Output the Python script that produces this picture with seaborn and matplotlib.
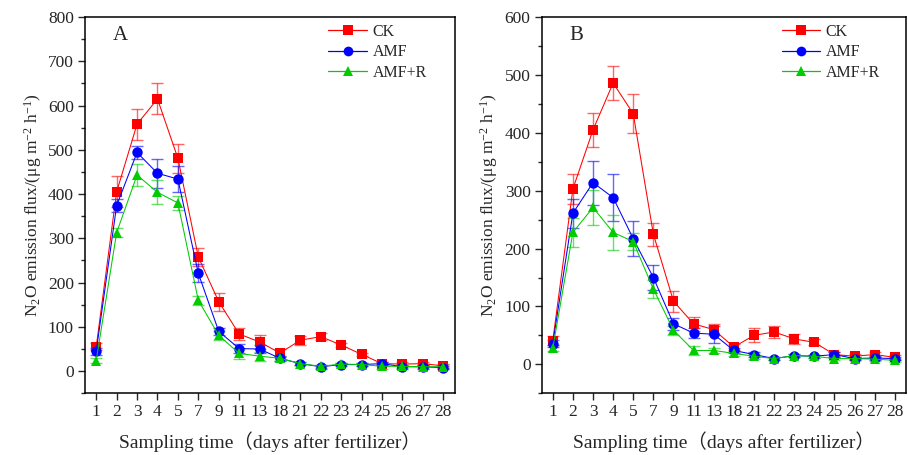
import numpy as np
import pandas as pd
import seaborn as sns
import matplotlib.pyplot as plt
from matplotlib.ticker import MultipleLocator

# sampling days (categorical x axis)
days = ['1', '2', '3', '4', '5', '7', '9', '11', '13', '18', '21', '22', '23', '24', '25', '26', '27', '28']
treatments = ['CK', 'AMF', 'AMF+R']

# Panel A
a_ck = [55, 405, 558, 615, 481, 258, 157, 84, 66, 41, 70, 78, 59, 38, 17, 16, 17, 12]
a_ck_err = [8, 35, 35, 35, 33, 20, 20, 14, 15, 8, 10, 8, 5, 4, 4, 4, 4, 4]
a_amf = [45, 374, 494, 447, 434, 221, 90, 51, 50, 29, 17, 10, 15, 15, 17, 10, 10, 8]
a_amf_err = [8, 15, 15, 33, 30, 20, 8, 10, 10, 5, 4, 4, 4, 4, 4, 4, 4, 4]
a_amfr = [24, 313, 443, 404, 380, 160, 81, 40, 34, 29, 17, 11, 16, 15, 11, 11, 10, 10]
a_amfr_err = [5, 10, 25, 27, 15, 10, 10, 12, 10, 5, 4, 3, 3, 3, 5, 3, 3, 3]

# Panel B
b_ck = [41, 303, 405, 486, 433, 225, 109, 70, 60, 30, 50, 56, 44, 38, 17, 14, 17, 12]
b_ck_err = [8, 26, 30, 30, 34, 20, 18, 12, 10, 5, 12, 10, 8, 5, 4, 4, 4, 4]
b_amf = [36, 261, 314, 288, 217, 150, 70, 54, 52, 24, 17, 10, 15, 14, 17, 10, 11, 10]
b_amf_err = [6, 25, 38, 40, 30, 22, 10, 8, 15, 5, 5, 3, 3, 3, 4, 3, 3, 3]
b_amfr = [28, 228, 271, 228, 212, 130, 59, 24, 24, 19, 14, 10, 15, 14, 10, 10, 9, 7]
b_amfr_err = [5, 25, 30, 30, 15, 15, 8, 8, 5, 4, 4, 3, 3, 3, 3, 3, 3, 3]

colors = {'CK': '#FF0000', 'AMF': '#0000FF', 'AMF+R': '#00CC00'}
markers = {'CK': 's', 'AMF': 'o', 'AMF+R': '^'}

sns.set_style('ticks')
plt.rcParams['font.family'] = ['Liberation Serif', 'Noto Sans CJK SC']
plt.rcParams['mathtext.fontset'] = 'custom'
plt.rcParams['mathtext.rm'] = 'Liberation Serif'
plt.rcParams['mathtext.it'] = 'Liberation Serif:italic'


def make_df(ck, amf, amfr, ck_e, amf_e, amfr_e):
    rows = []
    for name, vals, errs in [('CK', ck, ck_e), ('AMF', amf, amf_e), ('AMF+R', amfr, amfr_e)]:
        for i, (v, e) in enumerate(zip(vals, errs)):
            rows.append({'pos': i, 'day': days[i], 'treatment': name, 'flux': v, 'err': e})
    return pd.DataFrame(rows)


df_a = make_df(a_ck, a_amf, a_amfr, a_ck_err, a_amf_err, a_amfr_err)
df_b = make_df(b_ck, b_amf, b_amfr, b_ck_err, b_amf_err, b_amfr_err)

fig = plt.figure(figsize=(9.08, 4.55), dpi=100)
ax_a = fig.add_axes([0.0936, 0.1356, 0.407, 0.827])
ax_b = fig.add_axes([0.5966, 0.1356, 0.401, 0.827])


def draw_panel(ax, df, ymax, major, letter):
    for t in treatments:
        sub = df[df['treatment'] == t]
        ax.errorbar(sub['pos'], sub['flux'], yerr=sub['err'], fmt='none',
                    ecolor=colors[t], alpha=0.6, elinewidth=1, capsize=4, capthick=1, zorder=2)
    sns.lineplot(data=df, x='pos', y='flux', hue='treatment', style='treatment',
                 hue_order=treatments, style_order=treatments,
                 palette=colors, markers=markers, dashes=False,
                 markersize=7.5, markeredgewidth=0, linewidth=0.75,
                 ax=ax, legend=True, zorder=3)
    ax.set_xlim(-0.55, 17.55)
    ax.set_ylim(-50, ymax)
    ax.set_xticks(range(len(days)))
    ax.set_xticklabels(days)
    ax.yaxis.set_minor_locator(MultipleLocator(major / 2))
    ax.set_yticks([v for v in np.arange(0, ymax + 1, major)])
    ax.tick_params(axis='both', which='major', direction='out', length=5, width=1,
                   labelsize=12.5, pad=3)
    ax.tick_params(axis='y', which='minor', direction='out', length=3, width=1)
    ax.tick_params(axis='x', which='minor', bottom=False)
    for s in ax.spines.values():
        s.set_linewidth(1.1)
        s.set_color('black')
    ax.set_xlabel('Sampling time（days after fertilizer）', fontsize=14, labelpad=8)
    ax.set_ylabel('N$_2$O emission flux/(μg m$^{-2}$ h$^{-1}$)', fontsize=12.5, labelpad=3)
    ax.text(0.075, 0.95, letter, transform=ax.transAxes, fontsize=15, va='center', ha='left')
    leg = ax.legend(loc='upper left', bbox_to_anchor=(0.62, 1.02), frameon=False,
                    fontsize=11.5, handlelength=2.4, labelspacing=0.28, handletextpad=0.35)
    for h in leg.legend_handles:
        h.set_markersize(7)
        h.set_linewidth(0.9)


draw_panel(ax_a, df_a, 800, 100, 'A')
draw_panel(ax_b, df_b, 600, 100, 'B')

fig.savefig('out.png', dpi=100)
